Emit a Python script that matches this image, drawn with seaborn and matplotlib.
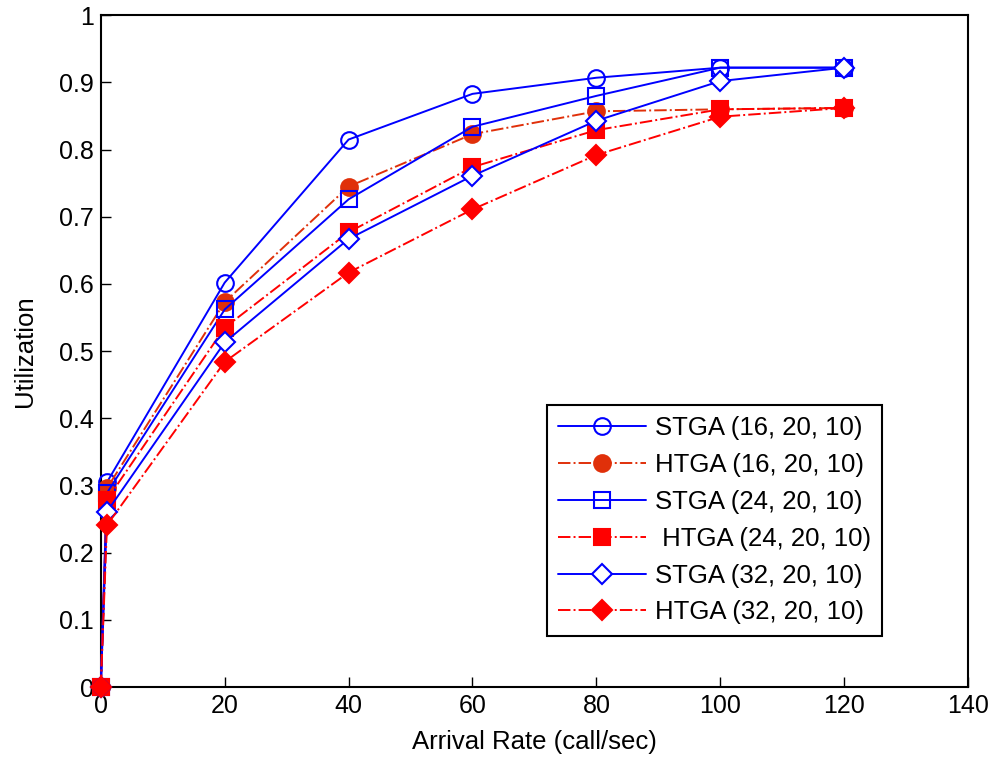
import pandas as pd
import seaborn as sns
import matplotlib
matplotlib.use("Agg")
import matplotlib.pyplot as plt

arrival_rate = [0, 1, 20, 40, 60, 80, 100, 120]

stga_16 = [0, 0.305, 0.602, 0.815, 0.883, 0.907, 0.922, 0.922]
htga_16 = [0, 0.296, 0.573, 0.745, 0.823, 0.857, 0.860, 0.862]
stga_24 = [0, 0.289, 0.562, 0.726, 0.834, 0.880, 0.922, 0.922]
htga_24 = [0, 0.279, 0.535, 0.677, 0.774, 0.829, 0.860, 0.862]
stga_32 = [0, 0.261, 0.513, 0.667, 0.761, 0.843, 0.902, 0.922]
htga_32 = [0, 0.241, 0.484, 0.617, 0.711, 0.792, 0.849, 0.862]

labels = ['STGA (16, 20, 10)', 'HTGA (16, 20, 10)', 'STGA (24, 20, 10)',
          ' HTGA (24, 20, 10)', 'STGA (32, 20, 10)', 'HTGA (32, 20, 10)']

sns.set_style('white')
plt.rcParams['font.family'] = ['Liberation Sans', 'DejaVu Sans']
plt.rcParams['font.size'] = 18
for key in ['text.color', 'axes.labelcolor', 'xtick.color', 'ytick.color']:
    plt.rcParams[key] = 'black'

fig = plt.figure(figsize=(9.98, 7.63), dpi=100)
ax = fig.add_axes([0.101, 0.0996, 0.869, 0.8804])

series = [stga_16, htga_16, stga_24, htga_24, stga_32, htga_32]
styles = [
    dict(color='#0000ff', linestyle='-', marker='o', markerfacecolor='none'),
    dict(color='#e0300a', linestyle='-.', marker='o', markerfacecolor='#e0300a'),
    dict(color='#0000ff', linestyle='-', marker='s', markerfacecolor='none'),
    dict(color='#ff0000', linestyle='-.', marker='s', markerfacecolor='#ff0000'),
    dict(color='#0000ff', linestyle='-', marker='D', markerfacecolor='white', markersize=10),
    dict(color='#ff0000', linestyle='-.', marker='D', markerfacecolor='#ff0000', markersize=10),
]

for vals, lab, st in zip(series, labels, styles):
    df = pd.DataFrame({'x': arrival_rate, 'y': vals})
    kw = dict(linewidth=1.4, markersize=12, markeredgewidth=1.5)
    kw.update(st)
    sns.lineplot(data=df, x='x', y='y', ax=ax, label=lab, estimator=None,
                 markeredgecolor=st['color'], clip_on=False, zorder=3, **kw)

ax.set_xlim(0, 140)
ax.set_ylim(0, 1)
ax.set_xticks(range(0, 141, 20))
ax.set_yticks([i / 10 for i in range(11)])
ax.set_yticklabels(['0'] + ['0.%d' % i for i in range(1, 10)] + ['1'])
ax.tick_params(direction='in', length=7, width=1, labelsize=18, pad=5,
               left=True, bottom=True, colors='black')
for sp in ax.spines.values():
    sp.set_color('black')
    sp.set_linewidth(1.5)
    sp.set_zorder(2)
ax.set_xlabel('Arrival Rate (call/sec)', fontsize=18.5, labelpad=9, color='black')
ax.set_ylabel('Utilization', fontsize=18.5, labelpad=16, color='black')

leg = ax.legend(loc='lower right', bbox_to_anchor=(0.901, 0.076), fontsize=18.5,
                frameon=True, fancybox=False, edgecolor='black', framealpha=1,
                handlelength=3.4, handletextpad=0.35, labelspacing=0.5,
                borderpad=0.45, borderaxespad=0)
leg.get_frame().set_linewidth(1.5)
for t in leg.get_texts():
    t.set_color('black')
leg.set_zorder(5)

fig.savefig('out.png', dpi=100)
